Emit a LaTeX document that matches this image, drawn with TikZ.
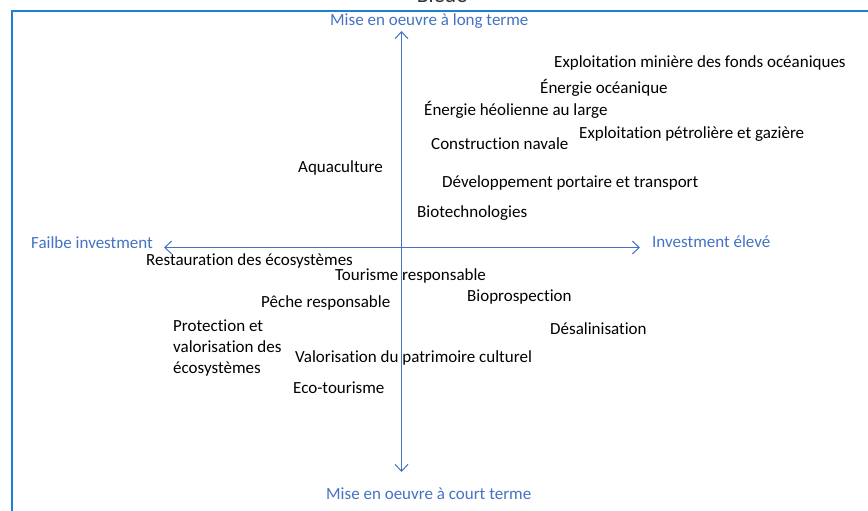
\documentclass[tikz,border=0pt]{standalone}
\usepackage{fontspec}
\setmainfont{Carlito}[Ligatures={NoCommon}]
\usetikzlibrary{arrows.meta}
\definecolor{axisblue}{HTML}{4472C4}
\definecolor{frameblue}{HTML}{1F7FD0}
\begin{document}
\begin{tikzpicture}[x=1pt,y=-1pt,
  lbl/.style={anchor=base west,inner sep=0pt,font=\fontsize{17}{21}\selectfont,text=black},
  axlbl/.style={lbl,text=axisblue},
  axis/.style={draw=axisblue,line width=1pt,-{Straight Barb[length=7pt,width=13pt,line width=1pt]}}]
\useasboundingbox (0,0) rectangle (868,511);
\clip (0,0) rectangle (868,511);
% frame of the panel
\draw[frameblue,line width=2pt] (12,520) -- (12,11) -- (880,11);
\node[anchor=base,inner sep=0pt,font=\fontsize{22}{26}\selectfont,text=black!80] (title) at (442,3) {Bleue};
% axes
\coordinate (o) at (401.5,247.5);
\coordinate (top) at (401.5,31);
\coordinate (bot) at (401.5,472);
\coordinate (lft) at (164,247.5);
\coordinate (rgt) at (640,247.5);
\draw[axis] (o) -- (top);
\draw[axis] (o) -- (bot);
\draw[axis] (o) -- (lft);
\draw[axis] (o) -- (rgt);
% axis labels
\node[axlbl] (lt) at (330,26) {Mise en oeuvre à long terme};
\node[axlbl] (ct) at (326,499) {Mise en oeuvre à court terme};
\node[axlbl] (fi) at (31,248) {Failbe investment};
\node[axlbl] (ie) at (652,247) {Investment élevé};
% activities
\node[lbl] (a1) at (554,68) {Exploitation minière des fonds océaniques};
\node[lbl] (a2) at (540,93) {Énergie océanique};
\node[lbl] (a3) at (424,115) {Énergie héolienne au large};
\node[lbl] (a4) at (579,138) {Exploitation pétrolière et gazière};
\node[lbl] (a5) at (431,149) {Construction navale};
\node[lbl] (a6) at (298,172) {Aquaculture};
\node[lbl] (a7) at (442,187) {Développement portaire et transport};
\node[lbl] (a8) at (417,217) {Biotechnologies};
\node[lbl] (b1) at (146,265) {Restauration des écosystèmes};
\node[lbl] (b2) at (335,280) {Tourisme responsable};
\node[lbl] (b3) at (467,301) {Bioprospection};
\node[lbl] (b4) at (261,307) {Pêche responsable};
\node[lbl] (b5) at (550,334) {Désalinisation};
\node[lbl,align=left] (b6) at (173,373) {Protection et\\valorisation des\\écosystèmes};
\node[lbl] (b7) at (295,362) {Valorisation du patrimoire culturel};
\node[lbl] (b8) at (293,393) {Eco-tourisme};
\end{tikzpicture}
\end{document}
